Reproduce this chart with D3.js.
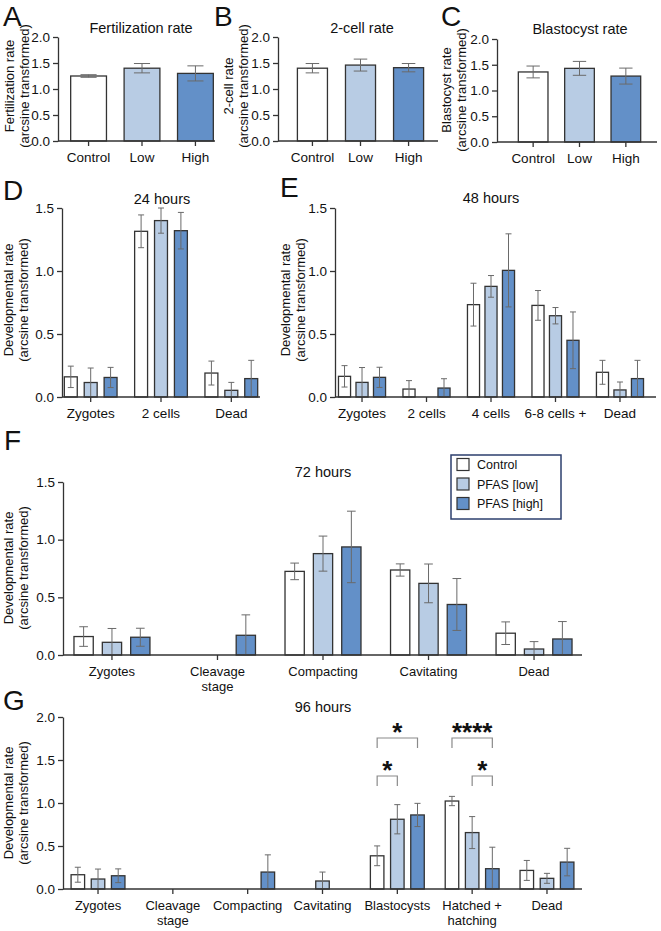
<!DOCTYPE html>
<html><head><meta charset="utf-8">
<script src="https://cdn.jsdelivr.net/npm/d3@7"></script>
<style>body{margin:0;background:#fff;} svg{display:block;font-family:"Liberation Sans",Arial,Helvetica,sans-serif;}</style>
</head><body><svg id="chart" width="661" height="931"></svg>
<script>
// ---------------- DATA ----------------
const groupsABC = ["Control", "Low", "High"];
const seriesNames = ["Control", "PFAS [low]", "PFAS [high]"];
const seriesColors = ["#ffffff", "#b8cce4", "#6390c8"];

const fertMean = [1.25, 1.40, 1.30];
const fertErr  = [0.025, 0.09, 0.145];
const twoCellMean = [1.40, 1.46, 1.41];
const twoCellErr  = [0.09, 0.115, 0.08];
const blastMean = [1.36, 1.43, 1.28];
const blastErr  = [0.115, 0.135, 0.155];

const cats24 = ["Zygotes", "2 cells", "Dead"];
const mean24 = [[0.16, 1.315, 0.19], [0.115, 1.40, 0.053], [0.155, 1.32, 0.146]];
const err24  = [[0.085, 0.13, 0.095], [0.115, 0.10, 0.063], [0.08, 0.145, 0.145]];

const cats48 = ["Zygotes", "2 cells", "4 cells", "6-8 cells +", "Dead"];
const mean48 = [[0.164, 0.063, 0.733, 0.727, 0.196], [0.116, 0, 0.878, 0.645, 0.056], [0.156, 0.071, 1.005, 0.45, 0.146]];
const err48  = [[0.085, 0.067, 0.17, 0.118, 0.095], [0.118, 0, 0.086, 0.065, 0.063], [0.08, 0.074, 0.29, 0.225, 0.145]];

const cats72 = ["Zygotes", "Cleavage\nstage", "Compacting", "Cavitating", "Dead"];
const mean72 = [[0.16, 0, 0.725, 0.737, 0.189], [0.11, 0, 0.879, 0.621, 0.052], [0.154, 0.171, 0.937, 0.438, 0.139]];
const err72  = [[0.085, 0, 0.072, 0.053, 0.098], [0.12, 0, 0.152, 0.168, 0.064], [0.078, 0.177, 0.31, 0.225, 0.151]];

const cats96 = ["Zygotes", "Cleavage\nstage", "Compacting", "Cavitating", "Blastocysts", "Hatched +\nhatching", "Dead"];
const mean96 = [[0.166, 0, 0, 0, 0.386, 1.023, 0.216], [0.116, 0, 0, 0.093, 0.811, 0.656, 0.124], [0.154, 0, 0.197, 0, 0.861, 0.236, 0.313]];
const err96  = [[0.087, 0, 0, 0, 0.115, 0.054, 0.116], [0.116, 0, 0, 0.104, 0.17, 0.186, 0.058], [0.08, 0, 0.2, 0, 0.135, 0.25, 0.16]];

// significance comparisons in panel G (series indices)
const sigCats   = ["Blastocysts", "Blastocysts", "Hatched +\nhatching", "Hatched +\nhatching"];
const sigFrom   = [0, 0, 0, 1];
const sigTo     = [2, 1, 2, 2];
const sigLevel  = [2, 1, 2, 1];
const sigLabels = ["*", "*", "****", "*"];

const ticksABC = [0, 0.5, 1.0, 1.5, 2.0];
const ticksDEF = [0, 0.5, 1.0, 1.5];
const ticksG   = [0, 0.5, 1.0, 1.5, 2.0];

// ---------------- DRAW ----------------
const svg = d3.select("#chart");
const AX = "#333", ERR = "#6a6a6a";
const fmt = d3.format(".1f");

function panel(o) {
  const g = svg.append("g");
  const y = d3.scaleLinear().domain([0, o.yMax]).range([o.y0, o.y1]);
  const x0 = d3.scaleBand().domain(o.cats).range([o.bx0, o.bx1]).paddingInner(o.pi).paddingOuter(o.po);
  const nS = o.means.length;
  const x1 = d3.scaleBand().domain(d3.range(nS)).range([0, x0.bandwidth()]).paddingInner(o.pi2 || 0).paddingOuter(0);
  const rows = [];
  o.means.forEach((arr, s) => arr.forEach((v, c) => rows.push({ c: o.cats[c], ci: c, s, v, e: o.errs[s][c] })));
  const bw = x1.bandwidth();
  const colorOf = d => o.single ? seriesColors[d.ci] : seriesColors[d.s];
  const shown = rows.filter(d => d.v > 0);

  g.selectAll("rect.bar").data(shown).join("rect")
    .attr("x", d => x0(d.c) + x1(d.s)).attr("y", d => y(d.v))
    .attr("width", bw).attr("height", d => y(0) - y(d.v))
    .attr("fill", colorOf).attr("stroke", AX).attr("stroke-width", 1.3);

  const capW = Math.max(6, bw * 0.45);
  const eb = g.selectAll("g.err").data(shown.filter(d => d.e > 0)).join("g")
    .attr("stroke", ERR).attr("stroke-width", 1);
  eb.append("line").attr("x1", d => x0(d.c) + x1(d.s) + bw / 2).attr("x2", d => x0(d.c) + x1(d.s) + bw / 2)
    .attr("y1", d => y(Math.max(0, d.v - d.e))).attr("y2", d => y(d.v + d.e));
  [1, -1].forEach(sign => {
    eb.append("line")
      .attr("x1", d => x0(d.c) + x1(d.s) + bw / 2 - capW / 2).attr("x2", d => x0(d.c) + x1(d.s) + bw / 2 + capW / 2)
      .attr("y1", d => y(Math.max(0, d.v + sign * d.e))).attr("y2", d => y(Math.max(0, d.v + sign * d.e)));
  });

  // y axis
  const ya = g.append("g").attr("transform", `translate(${o.axisX},0)`)
    .call(d3.axisLeft(y).tickValues(o.ticks).tickFormat(fmt).tickSize(5).tickSizeOuter(0).tickPadding(3));
  ya.select(".domain").attr("stroke", AX).attr("stroke-width", 1.3);
  ya.selectAll(".tick line").attr("stroke", AX).attr("stroke-width", 1.3);
  ya.selectAll("text").attr("font-size", o.tickFs || 13.5).attr("fill", "#111").attr("font-family", null);

  // x axis
  const xa = g.append("g").attr("transform", `translate(0,${o.y0})`)
    .call(d3.axisBottom(x0).tickSize(5).tickSizeOuter(0).tickFormat(""));
  xa.select(".domain").remove();
  xa.selectAll(".tick line").attr("stroke", AX).attr("stroke-width", 1.3);
  g.append("line").attr("x1", o.axisX).attr("x2", o.axisRight).attr("y1", o.y0).attr("y2", o.y0)
    .attr("stroke", AX).attr("stroke-width", 1.3);
  const lab = g.selectAll("text.cat").data(o.cats).join("text")
    .attr("text-anchor", "middle").attr("font-size", o.catFs || 13.5).attr("fill", "#111")
    .attr("x", d => x0(d) + x0.bandwidth() / 2).attr("y", o.y0 + 21);
  lab.each(function (d) {
    d.split("\n").forEach((line, i) => d3.select(this).append("tspan")
      .attr("x", x0(d) + x0.bandwidth() / 2).attr("dy", i ? 14.5 : 0).text(line));
  });

  // title
  g.append("text").attr("x", o.titleX).attr("y", o.titleY).attr("text-anchor", "middle")
    .attr("font-size", 14.5).attr("fill", "#111").text(o.title);
  // y label
  o.ylab.forEach((t, i) => g.append("text")
    .attr("transform", `translate(${o.ylabX[i]},${o.ylabY}) rotate(-90)`)
    .attr("text-anchor", "middle").attr("font-size", 13).attr("fill", "#111").text(t));
  // letter
  g.append("text").attr("x", o.letterX).attr("y", o.letterY).attr("font-size", 28).attr("fill", "#111").text(o.letter);
  return { x0, x1, y };
}

panel({ letter: "A", letterX: 3, letterY: 26, cats: groupsABC, single: true, means: [fertMean], errs: [fertErr],
  yMax: 2, y0: 141, y1: 37, ticks: ticksABC, axisX: 58, axisRight: 215, bx0: 68, bx1: 216, pi: 0.33, po: 0.05,
  title: "Fertilization rate", titleX: 141, titleY: 33, ylab: ["Fertilization rate", "(arcsine transformed)"],
  ylabX: [14, 29], ylabY: 86, tickFs: 13.5, catFs: 13.5 });
panel({ letter: "B", letterX: 214, letterY: 26, cats: groupsABC, single: true, means: [twoCellMean], errs: [twoCellErr],
  yMax: 2, y0: 141, y1: 37, ticks: ticksABC, axisX: 278, axisRight: 438, bx0: 295, bx1: 426, pi: 0.375, po: 0.05,
  title: "2-cell rate", titleX: 362, titleY: 33, ylab: ["2-cell rate", "(arcsine transformed)"],
  ylabX: [233, 248], ylabY: 86, tickFs: 13.5, catFs: 13.5 });
panel({ letter: "C", letterX: 441, letterY: 26, cats: groupsABC, single: true, means: [blastMean], errs: [blastErr],
  yMax: 2, y0: 142, y1: 39, ticks: ticksABC, axisX: 497, axisRight: 657, bx0: 516, bx1: 643, pi: 0.36, po: 0.05,
  title: "Blastocyst rate", titleX: 580, titleY: 34, ylab: ["Blastocyst rate", "(arcsine transformed)"],
  ylabX: [451, 466], ylabY: 90, tickFs: 13.5, catFs: 13.5 });

const devLab = ["Developmental rate", "(arcsine transformed)"];
panel({ letter: "D", letterX: 3, letterY: 200, cats: cats24, means: mean24, errs: err24,
  yMax: 1.5, y0: 397, y1: 208, ticks: ticksDEF, axisX: 62, axisRight: 260, bx0: 62, bx1: 260, pi: 0.25, po: 0.033, pi2: 0.35,
  title: "24 hours", titleX: 162, titleY: 204, ylab: devLab, ylabX: [13, 28], ylabY: 300 });
panel({ letter: "E", letterX: 280, letterY: 197, cats: cats48, means: mean48, errs: err48,
  yMax: 1.5, y0: 397, y1: 208, ticks: ticksDEF, axisX: 335, axisRight: 656, bx0: 335, bx1: 647, pi: 0.27, po: 0.054, pi2: 0.31,
  title: "48 hours", titleX: 491, titleY: 203, ylab: devLab, ylabX: [290, 305], ylabY: 300 });
panel({ letter: "F", letterX: 4, letterY: 450, cats: cats72, means: mean72, errs: err72,
  yMax: 1.5, y0: 655, y1: 482, ticks: ticksDEF, axisX: 63, axisRight: 582, bx0: 63, bx1: 583, pi: 0.28, po: 0.104, pi2: 0.32,
  title: "72 hours", titleX: 323, titleY: 477, ylab: devLab, ylabX: [13, 28], ylabY: 568, catFs: 13 });
const pG = panel({ letter: "G", letterX: 3, letterY: 710, cats: cats96, means: mean96, errs: err96,
  yMax: 2, y0: 889, y1: 717, ticks: ticksG, axisX: 63, axisRight: 582, bx0: 63, bx1: 582, pi: 0.28, po: 0.108, pi2: 0.33,
  title: "96 hours", titleX: 323, titleY: 712, ylab: devLab, ylabX: [13, 28], ylabY: 803, catFs: 13 });

// significance brackets
const levelVal = { 1: 1.314, 2: 1.756 };
const sg = svg.append("g");
sigCats.forEach((c, i) => {
  const xa = pG.x0(c) + pG.x1(sigFrom[i]) + pG.x1.bandwidth() / 2;
  const xb = pG.x0(c) + pG.x1(sigTo[i]) + pG.x1.bandwidth() / 2;
  const yt = pG.y(levelVal[sigLevel[i]]);
  sg.append("path").attr("d", `M${xa},${yt + 10}V${yt}H${xb}V${yt + 10}`)
    .attr("fill", "none").attr("stroke", "#8a8a8a").attr("stroke-width", 1.2);
  sg.append("text").attr("x", (xa + xb) / 2).attr("y", yt + 3).attr("text-anchor", "middle")
    .attr("font-size", 26).attr("font-weight", "bold").attr("fill", "#111").text(sigLabels[i]);
});

// legend (panel F)
const lg = svg.append("g").attr("transform", "translate(451,455)");
lg.append("rect").attr("width", 110).attr("height", 64).attr("fill", "#fff").attr("stroke", "#2d3f6e").attr("stroke-width", 1.5);
seriesNames.forEach((n, i) => {
  lg.append("rect").attr("x", 6).attr("y", 3.5 + i * 19.5).attr("width", 12).attr("height", 12)
    .attr("fill", seriesColors[i]).attr("stroke", AX).attr("stroke-width", 1.2);
  lg.append("text").attr("x", 26).attr("y", 14 + i * 19.5).attr("font-size", 12.5).attr("fill", "#111").text(n);
});
</script></body></html>
